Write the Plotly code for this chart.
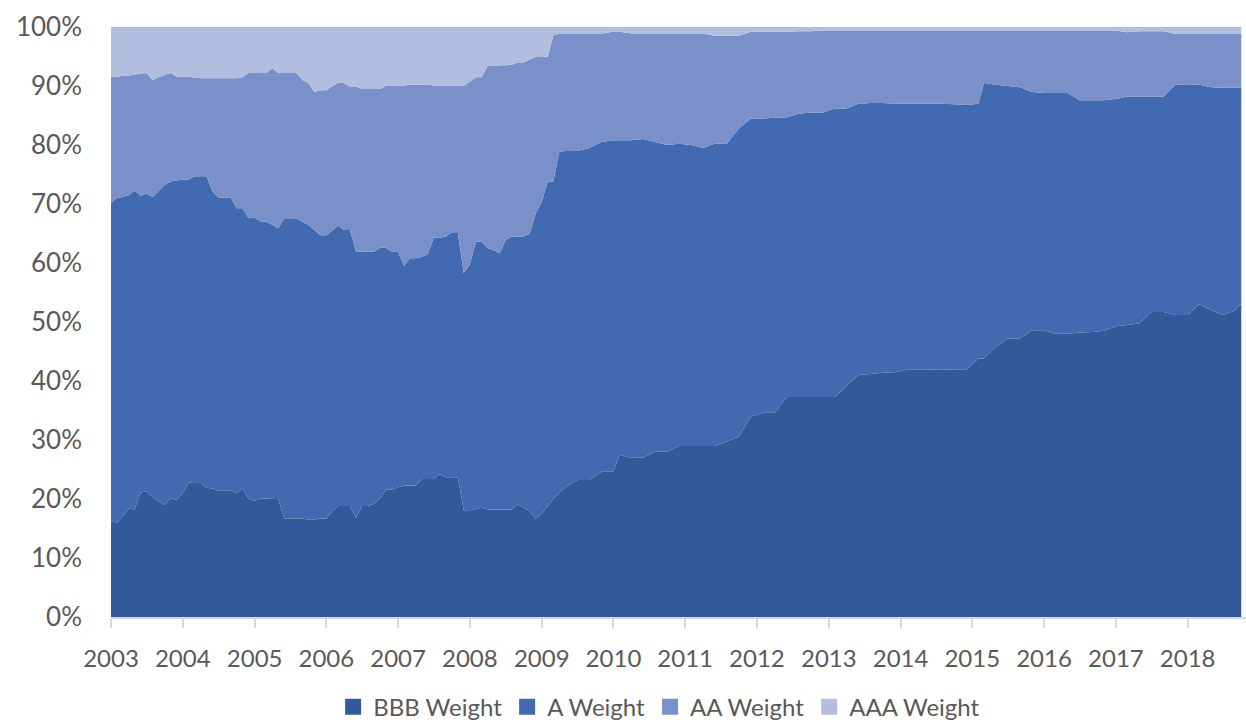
import plotly.graph_objects as go

months = [
    "2003-01","2003-02","2003-03","2003-04","2003-05","2003-06","2003-07","2003-08","2003-09","2003-10","2003-11","2003-12",
    "2004-01","2004-02","2004-03","2004-04","2004-05","2004-06","2004-07","2004-08","2004-09","2004-10","2004-11","2004-12",
    "2005-01","2005-02","2005-03","2005-04","2005-05","2005-06","2005-07","2005-08","2005-09","2005-10","2005-11","2005-12",
    "2006-01","2006-02","2006-03","2006-04","2006-05","2006-06","2006-07","2006-08","2006-09","2006-10","2006-11","2006-12",
    "2007-01","2007-02","2007-03","2007-04","2007-05","2007-06","2007-07","2007-08","2007-09","2007-10","2007-11","2007-12",
    "2008-01","2008-02","2008-03","2008-04","2008-05","2008-06","2008-07","2008-08","2008-09","2008-10","2008-11","2008-12",
    "2009-01","2009-02","2009-03","2009-04","2009-05","2009-07","2009-09","2009-11",
    "2010-01","2010-02","2010-04","2010-06","2010-08","2010-10","2010-12",
    "2011-02","2011-04","2011-06","2011-08","2011-10","2011-12",
    "2012-02","2012-04","2012-06","2012-08","2012-10","2012-12",
    "2013-02","2013-04","2013-06","2013-08","2013-10","2013-12",
    "2014-02","2014-04","2014-06","2014-08","2014-10","2014-12",
    "2015-02","2015-03","2015-05","2015-07","2015-09","2015-11",
    "2016-01","2016-03","2016-05","2016-07","2016-09","2016-11",
    "2017-01","2017-03","2017-05","2017-07","2017-09","2017-11",
    "2018-01","2018-03","2018-05","2018-07","2018-09","2018-10",
]

bbb_weight = [
    16.2,16.0,17.0,18.4,18.2,21.1,21.3,20.3,19.6,19.0,20.1,19.8,
    21.0,22.8,22.7,22.7,21.9,21.8,21.4,21.4,21.4,21.0,21.8,20.1,
    19.7,20.1,20.1,20.0,20.0,16.7,16.7,16.7,16.7,16.5,16.5,16.7,
    16.7,18.0,18.8,18.8,18.8,16.8,18.8,18.8,19.2,20.1,21.6,21.6,
    22.0,22.3,22.3,22.3,23.4,23.4,23.4,24.2,23.7,23.7,23.7,18.1,
    18.1,18.3,18.5,18.2,18.2,18.2,18.2,18.2,19.1,18.5,18.0,16.6,
    17.5,18.8,20.0,21.0,22.0,23.2,23.2,24.6,
    24.6,27.5,27.0,27.0,28.0,28.0,29.0,
    29.0,29.0,29.0,29.7,30.6,34.0,
    34.6,34.6,37.3,37.3,37.3,37.3,
    37.3,39.2,41.0,41.2,41.4,41.5,
    41.9,41.9,41.9,42.0,41.9,41.9,
    43.8,43.8,45.8,47.2,47.2,48.6,
    48.6,48.0,48.0,48.2,48.3,48.5,
    49.3,49.5,49.8,51.7,51.7,51.2,
    51.2,53.0,52.0,51.2,52.0,53.1,
]

a_weight = [
    54.0,55.0,54.2,53.1,54.1,50.3,50.5,50.9,52.6,54.2,53.7,54.2,
    53.1,51.3,52.0,52.0,52.8,50.3,49.7,49.7,49.7,48.3,47.5,47.5,
    48.0,46.9,46.9,46.5,45.9,50.9,50.9,50.9,50.3,50.0,49.1,48.0,
    48.0,47.5,47.5,46.8,46.8,45.1,43.1,43.1,42.7,42.5,41.0,40.3,
    39.9,37.2,38.5,38.5,37.6,38.1,40.9,40.1,40.8,41.5,41.5,40.2,
    41.6,45.3,45.1,44.3,44.0,43.4,45.7,46.3,45.4,46.0,47.0,51.8,
    52.9,55.0,53.8,57.9,57.0,55.8,56.3,55.9,
    56.2,53.3,53.8,54.0,52.5,52.0,51.2,
    51.0,50.5,51.2,50.5,52.2,50.5,
    49.9,50.0,47.4,48.0,48.2,48.2,
    48.9,47.0,46.0,45.9,45.7,45.5,
    45.1,45.1,45.1,45.0,45.0,44.9,
    43.2,46.7,44.4,42.8,42.6,40.4,
    40.2,40.8,40.8,39.4,39.3,39.1,
    38.5,38.7,38.4,36.5,36.5,39.0,
    39.1,37.2,37.8,38.5,37.7,36.6,
]

aa_weight = [
    21.3,20.6,20.5,20.3,19.6,20.7,20.4,19.8,19.3,18.7,18.4,17.6,
    17.5,17.5,16.7,16.6,16.6,19.2,20.2,20.2,20.2,22.0,22.2,24.6,
    24.5,25.2,25.2,26.5,26.3,24.6,24.6,24.6,24.0,24.0,23.4,24.6,
    24.6,24.5,24.2,24.9,24.3,28.0,27.6,27.6,27.6,26.9,27.5,28.2,
    28.2,30.6,29.4,29.4,29.2,28.7,25.8,25.8,25.6,24.9,24.9,31.7,
    31.0,27.9,27.9,30.9,31.2,31.9,29.6,29.1,29.5,29.5,29.5,26.5,
    24.5,21.2,24.8,20.0,19.9,19.9,19.4,18.4,
    18.4,18.4,18.1,17.9,18.4,18.9,18.7,
    18.9,19.4,18.3,18.3,15.7,14.7,
    14.7,14.6,14.5,14.0,13.8,13.9,
    13.2,13.2,12.4,12.3,12.3,12.4,
    12.4,12.4,12.4,12.4,12.5,12.6,
    12.4,8.9,9.2,9.4,9.6,10.4,
    10.6,10.6,10.6,11.8,11.8,11.8,
    11.6,10.9,11.1,11.1,11.1,8.6,
    8.5,8.6,9.0,9.1,9.1,9.1,
]

aaa_weight = [
    8.5,8.4,8.3,8.2,8.1,7.9,7.8,9.0,8.5,8.1,7.8,8.4,
    8.4,8.4,8.6,8.7,8.7,8.7,8.7,8.7,8.7,8.7,8.5,7.8,
    7.8,7.8,7.8,7.0,7.8,7.8,7.8,7.8,9.0,9.5,11.0,10.7,
    10.7,10.0,9.5,9.5,10.1,10.1,10.5,10.5,10.5,10.5,9.9,9.9,
    9.9,9.9,9.8,9.8,9.8,9.8,9.9,9.9,9.9,9.9,9.9,10.0,
    9.3,8.5,8.5,6.6,6.6,6.5,6.5,6.4,6.0,6.0,5.5,5.1,
    5.1,5.0,1.4,1.1,1.1,1.1,1.1,1.1,
    0.8,0.8,1.1,1.1,1.1,1.1,1.1,
    1.1,1.1,1.5,1.5,1.5,0.8,
    0.8,0.8,0.8,0.7,0.7,0.6,
    0.6,0.6,0.6,0.6,0.6,0.6,
    0.6,0.6,0.6,0.6,0.6,0.6,
    0.6,0.6,0.6,0.6,0.6,0.6,
    0.6,0.6,0.6,0.6,0.6,0.6,
    0.6,0.9,0.7,0.7,0.7,1.2,
    1.2,1.2,1.2,1.2,1.2,1.2,
]

series_names = ["BBB Weight", "A Weight", "AA Weight", "AAA Weight"]
series_values = [bbb_weight, a_weight, aa_weight, aaa_weight]
series_colors = ["#325A9B", "#426AB0", "#7A90C8", "#B1BEDF"]

year_ticks = [f"{y}-01-01" for y in range(2003, 2019)]
year_labels = [str(y) for y in range(2003, 2019)]
pct_ticks = list(range(0, 101, 10))
pct_labels = [f"{v}%" for v in pct_ticks]

dates = [m + "-01" for m in months]

fig = go.Figure()
for name, vals, col in zip(series_names, series_values, series_colors):
    fig.add_trace(go.Scatter(
        x=dates, y=vals, name=name, mode="none",
        stackgroup="one", groupnorm="percent",
        fillcolor=col, line=dict(width=0), showlegend=False,
    ))
# legend entries as square swatches
for name, col in zip(series_names, series_colors):
    fig.add_trace(go.Scatter(
        x=[None], y=[None], name=name, mode="markers",
        marker=dict(symbol="square", size=16, color=col),
        showlegend=True, hoverinfo="skip",
    ))

fig.update_layout(
    width=1246, height=726,
    margin=dict(l=111, r=0, t=27, b=109, autoexpand=False),
    paper_bgcolor="white", plot_bgcolor="white",
    font=dict(family="Lato, Open Sans, sans-serif", color="#595959", size=24),
    showlegend=True,
    legend=dict(
        orientation="h", traceorder="normal",
        xref="container", yref="container",
        x=0.529, xanchor="center", y=0.026, yanchor="middle",
        font=dict(size=24, color="#595959"),
        itemwidth=30, tracegroupgap=0,
        bgcolor="rgba(0,0,0,0)",
    ),
)
fig.update_xaxes(
    type="date", range=["2003-01-01", "2018-10-25"],
    tickvals=year_ticks, ticktext=year_labels,
    showgrid=False, showline=True, linecolor="#D9D9D9", linewidth=2,
    ticks="outside", ticklen=9, tickwidth=1.5, tickcolor="#D9D9D9",
    tickfont=dict(size=24, color="#595959"), zeroline=False,
    ticklabelstandoff=10,
)
fig.update_yaxes(
    range=[0, 100], tickvals=pct_ticks, ticktext=pct_labels,
    showgrid=False, showline=False, zeroline=False,
    tickfont=dict(size=26, color="#595959"), ticks="",
    ticklabelstandoff=28,
)

fig.write_html("out.html")
